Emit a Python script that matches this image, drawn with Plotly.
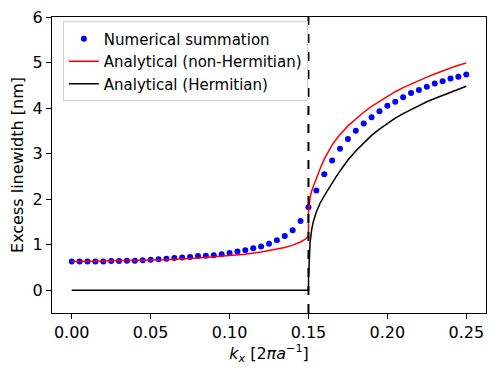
import plotly.graph_objects as go

# numerical summation (dots)
kx_num = [0.000, 0.005, 0.010, 0.015, 0.020, 0.025, 0.030, 0.035, 0.040, 0.045,
          0.050, 0.055, 0.060, 0.065, 0.070, 0.075, 0.080, 0.085, 0.090, 0.095,
          0.100, 0.105, 0.110, 0.115, 0.120, 0.125, 0.130, 0.135, 0.140, 0.145,
          0.150, 0.155, 0.160, 0.165, 0.170, 0.175, 0.180, 0.185, 0.190, 0.195,
          0.200, 0.205, 0.210, 0.215, 0.220, 0.225, 0.230, 0.235, 0.240, 0.245,
          0.250]
lw_num = [0.63, 0.63, 0.63, 0.63, 0.63, 0.64, 0.64, 0.65, 0.65, 0.66,
          0.67, 0.68, 0.69, 0.71, 0.72, 0.73, 0.75, 0.76, 0.77, 0.79,
          0.82, 0.85, 0.88, 0.92, 0.96, 1.02, 1.10, 1.19, 1.32, 1.52,
          1.82, 2.19, 2.55, 2.85, 3.11, 3.32, 3.50, 3.66, 3.80, 3.93,
          4.05, 4.14, 4.24, 4.33, 4.40, 4.47, 4.54, 4.59, 4.65, 4.69,
          4.74]

# analytical, non-Hermitian
kx_nh = [0.000, 0.020, 0.040, 0.060, 0.080, 0.100, 0.110, 0.120, 0.130, 0.135,
         0.140, 0.145, 0.148, 0.150, 0.150, 0.1505, 0.151, 0.152, 0.1535, 0.155,
         0.1575, 0.160, 0.1625, 0.165, 0.1675, 0.170, 0.175, 0.180, 0.185, 0.190,
         0.195, 0.200, 0.205, 0.210, 0.215, 0.220, 0.225, 0.230, 0.235, 0.240,
         0.245, 0.250]
lw_nh = [0.63, 0.64, 0.65, 0.67, 0.71, 0.76, 0.79, 0.84, 0.90, 0.94,
         0.99, 1.06, 1.12, 1.19, 1.71, 1.90, 2.03, 2.18, 2.33, 2.47,
         2.68, 2.88, 3.05, 3.19, 3.31, 3.42, 3.61, 3.77, 3.91, 4.04,
         4.15, 4.26, 4.36, 4.45, 4.53, 4.61, 4.68, 4.75, 4.82, 4.88,
         4.94, 4.99]

# analytical, Hermitian
kx_h = [0.000, 0.150, 0.15005, 0.1502, 0.1505, 0.151, 0.152, 0.153, 0.155, 0.1575,
        0.160, 0.1625, 0.165, 0.1675, 0.170, 0.175, 0.180, 0.185, 0.190, 0.195,
        0.200, 0.205, 0.210, 0.215, 0.220, 0.225, 0.230, 0.235, 0.240, 0.245,
        0.250]
lw_h = [0.00, 0.00, 0.25, 0.45, 0.75, 1.04, 1.32, 1.50, 1.72, 1.92,
        2.07, 2.22, 2.36, 2.49, 2.62, 2.86, 3.06, 3.24, 3.40, 3.54,
        3.67, 3.78, 3.88, 3.97, 4.06, 4.14, 4.21, 4.28, 4.35, 4.42,
        4.48]

kx_cut = 0.15

fig = go.Figure()
fig.add_trace(go.Scatter(x=kx_num, y=lw_num, mode="markers", name="Numerical summation",
                         marker=dict(color="#0000ff", size=6)))
fig.add_trace(go.Scatter(x=kx_nh, y=lw_nh, mode="lines", name="Analytical (non-Hermitian)",
                         line=dict(color="#ff0000", width=1.5)))
fig.add_trace(go.Scatter(x=kx_h, y=lw_h, mode="lines", name="Analytical (Hermitian)",
                         line=dict(color="#000000", width=1.5)))
fig.add_vline(x=kx_cut, line=dict(color="black", width=2, dash="dash"))

axis_style = dict(showline=True, linecolor="black", linewidth=1, mirror=True,
                  ticks="outside", ticklen=5, tickcolor="black", showgrid=False,
                  zeroline=False, automargin=False, ticklabeloverflow="allow",
                  tickfont=dict(size=16, color="black"))

fig.update_xaxes(range=[-0.0125, 0.2625], tickvals=[0, 0.05, 0.1, 0.15, 0.2, 0.25],
                 tickformat=".2f",
                 title=dict(text="<i>k<sub>x</sub></i> [2<i>πa</i><sup>−1</sup>]",
                            font=dict(size=16, color="black"), standoff=6),
                 **axis_style)
fig.update_yaxes(range=[-0.5, 6.001], tickvals=[0, 1, 2, 3, 4, 5, 6],
                 title=dict(text="Excess linewidth [nm]", font=dict(size=16, color="black"),
                            standoff=5),
                 **axis_style)

# the page adds an 8 px body margin, so the figure is sized to fit inside it
fig.update_layout(
    width=490, height=366,
    margin=dict(l=44, r=12, t=9, b=61),
    plot_bgcolor="white", paper_bgcolor="white",
    font=dict(family="DejaVu Sans", color="black"),
    legend=dict(x=0.025, y=0.985, xanchor="left", yanchor="top",
                bgcolor="rgba(255,255,255,0.8)", bordercolor="#d0d0d0", borderwidth=1,
                font=dict(size=15), tracegroupgap=0, itemwidth=30),
    showlegend=True,
)

fig.write_html("out.html")
